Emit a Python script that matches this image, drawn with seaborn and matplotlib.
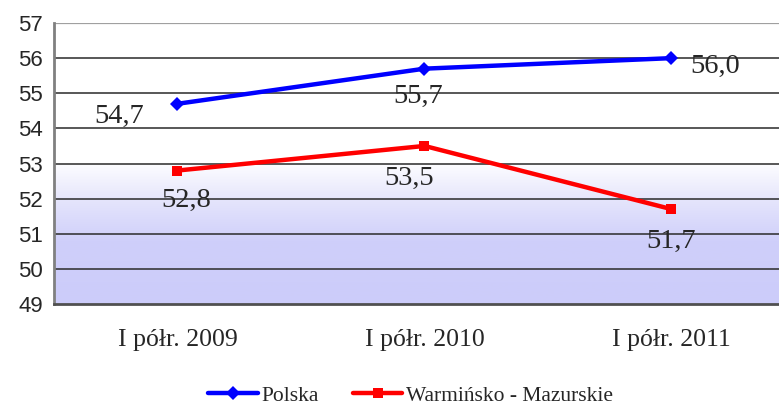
import numpy as np
import pandas as pd
import seaborn as sns
import matplotlib.pyplot as plt
from matplotlib.colors import LinearSegmentedColormap

okresy = ['I półr. 2009', 'I półr. 2010', 'I półr. 2011']
polska = [54.7, 55.7, 56.0]
warm_maz = [52.8, 53.5, 51.7]
serie = ['Polska', 'Warmińsko - Mazurskie']

df = pd.DataFrame({
    'okres': okresy * 2,
    'x': list(range(len(okresy))) * 2,
    'wartosc': polska + warm_maz,
    'seria': [serie[0]] * 3 + [serie[1]] * 3,
})

sns.set_style('white')
plt.rcParams['font.family'] = ['Liberation Serif', 'DejaVu Serif']

fig = plt.figure(figsize=(7.79, 4.09), dpi=100)
ax = fig.add_axes([54 / 779, 1 - 304 / 409, (795 - 54) / 779, (304 - 23) / 409])

# tlo z gradientem w dolnej czesci
cmap = LinearSegmentedColormap.from_list('tlo', [(0, '#ccccfa'), (0.45, '#cfcffa'), (0.75, '#e6e6fc'), (1, '#fdfdff')])
grad = np.linspace(0, 1, 200).reshape(-1, 1)
ax.imshow(grad, extent=(-0.5, 2.5, 49, 53), origin='lower', cmap=cmap, aspect='auto', zorder=0)

for y in range(50, 57):
    ax.axhline(y, color='#2a2a2a', lw=1.1, zorder=1)
ax.axhline(57, color='#a0a0a0', lw=1.6, zorder=1)

sns.lineplot(data=df, x='x', y='wartosc', hue='seria', style='seria',
             palette=['#0000ff', '#ff0000'], markers=['D', 's'], dashes=False,
             lw=3.2, markersize=7, markeredgewidth=0, ax=ax, zorder=3)

ax.set_xlim(-0.5, 2.5)
ax.set_ylim(49, 57)
ax.set_yticks(range(49, 58))
ax.set_yticklabels([str(v) for v in range(49, 58)], family='Liberation Sans', fontsize=16)
ax.set_xticks(range(3))
ax.set_xticklabels(okresy, fontsize=18.5)
ax.set_xticks([-0.5, 0.5, 1.5], minor=True)
ax.tick_params(axis='x', which='major', length=0, pad=18)
ax.tick_params(axis='x', which='minor', length=6, width=1.5, color='#606060')
ax.tick_params(axis='y', length=6, width=1.5, color='#808080', pad=2)
ax.set_xlabel('')
ax.set_ylabel('')

for s in ['top', 'right']:
    ax.spines[s].set_visible(False)
ax.spines['left'].set_color('#808080')
ax.spines['left'].set_linewidth(2)
ax.spines['bottom'].set_color('#505050')
ax.spines['bottom'].set_linewidth(2)

# etykiety danych
offs_p = [(-0.235, -0.35), (-0.026, -0.8), (0.176, -0.24)]
offs_w = [(0.034, -0.86), (-0.063, -0.93), (0.0, -0.92)]
for i in range(3):
    ax.text(i + offs_p[i][0], polska[i] + offs_p[i][1], f'{polska[i]:.1f}'.replace('.', ','),
            fontsize=20.5, ha='center', va='center')
    ax.text(i + offs_w[i][0], warm_maz[i] + offs_w[i][1], f'{warm_maz[i]:.1f}'.replace('.', ','),
            fontsize=20.5, ha='center', va='center')

h, l = ax.get_legend_handles_labels()
ax.get_legend().remove()
fig.legend(h, l, loc='lower center', bbox_to_anchor=(0.527, -0.04), ncol=2, frameon=False,
           fontsize=15.5, handlelength=2.3, columnspacing=1.6, handletextpad=0.15)

fig.savefig('out.png', dpi=100)
